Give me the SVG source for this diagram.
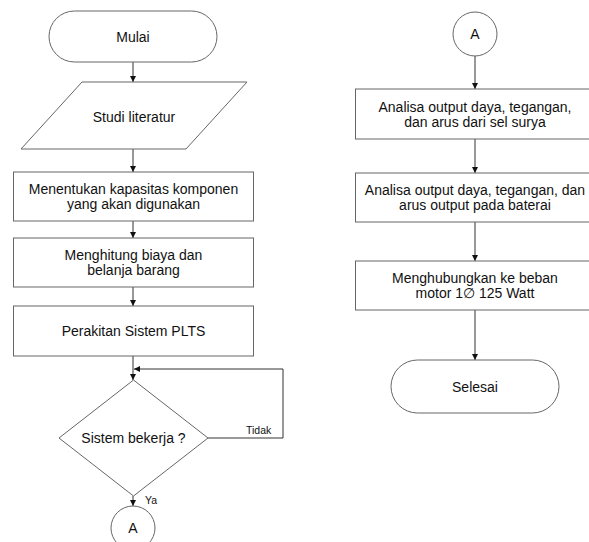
<svg xmlns="http://www.w3.org/2000/svg" width="589" height="542" viewBox="0 0 589 542">
<style>
.s{fill:#fff;stroke:#666;stroke-width:1}
.t{font-family:"Liberation Sans",Arial,sans-serif;font-size:14px;fill:#111;text-anchor:middle}
.l{font-family:"Liberation Sans",Arial,sans-serif;font-size:10.5px;fill:#111}
.c{fill:none;stroke:#333;stroke-width:1}
</style>
<defs>
<marker id="ah" viewBox="0 0 10 10" refX="10" refY="5" markerWidth="6" markerHeight="6" markerUnits="userSpaceOnUse" orient="auto">
<path d="M0,0 L10,5 L0,10 z" fill="#111"/>
</marker>
</defs>
<rect width="589" height="542" fill="#fff"/>
<g id="connectors">
<line class="c" x1="133" y1="62" x2="133" y2="82" marker-end="url(#ah)"/>
<line class="c" x1="133" y1="149" x2="133" y2="172" marker-end="url(#ah)"/>
<line class="c" x1="133" y1="221" x2="133" y2="238" marker-end="url(#ah)"/>
<line class="c" x1="133" y1="287" x2="133" y2="306" marker-end="url(#ah)"/>
<line class="c" x1="133" y1="356" x2="133" y2="380" marker-end="url(#ah)"/>
<polyline class="c" points="208,438 283,438 283,369 134,369" marker-end="url(#ah)"/>
<line class="c" x1="133" y1="496" x2="133" y2="506" marker-end="url(#ah)"/>
<line class="c" x1="475" y1="56" x2="475" y2="89" marker-end="url(#ah)"/>
<line class="c" x1="475" y1="139" x2="475" y2="173" marker-end="url(#ah)"/>
<line class="c" x1="475" y1="222" x2="475" y2="261" marker-end="url(#ah)"/>
<line class="c" x1="475" y1="310" x2="475" y2="360" marker-end="url(#ah)"/>
<text class="l" x="246" y="434">Tidak</text>
<text class="l" x="145" y="504">Ya</text>
</g>
<g id="mulai">
<rect class="s" x="49" y="11" width="168" height="51" rx="25.5"/>
<text class="t" x="133" y="42">Mulai</text>
</g>
<g id="studi">
<polygon class="s" points="82,82 247,82 186,149 21,149"/>
<text class="t" x="134" y="122">Studi literatur</text>
</g>
<g id="kapasitas">
<rect class="s" x="13.5" y="172" width="240" height="49"/>
<text class="t" x="133.5" y="194">Menentukan kapasitas komponen</text>
<text class="t" x="133.5" y="209">yang akan digunakan</text>
</g>
<g id="biaya">
<rect class="s" x="13.5" y="238" width="240" height="49"/>
<text class="t" x="133.5" y="260">Menghitung biaya dan</text>
<text class="t" x="133.5" y="275">belanja barang</text>
</g>
<g id="perakitan">
<rect class="s" x="13.5" y="306" width="240" height="50"/>
<text class="t" x="133.5" y="336">Perakitan Sistem PLTS</text>
</g>
<g id="decision">
<polygon class="s" points="133.5,380 208,438 133.5,496 59,438"/>
<text class="t" x="133.5" y="443">Sistem bekerja ?</text>
</g>
<g id="connA1">
<circle class="s" cx="133" cy="528" r="22"/>
<text class="t" x="133" y="533">A</text>
</g>
<g id="connA2">
<circle class="s" cx="475" cy="34" r="22"/>
<text class="t" x="475" y="39">A</text>
</g>
<g id="analisaSel">
<rect class="s" x="355.5" y="89" width="240" height="50"/>
<text class="t" x="475" y="111.5">Analisa output daya, tegangan,</text>
<text class="t" x="475" y="126.5">dan arus dari sel surya</text>
</g>
<g id="analisaBaterai">
<rect class="s" x="355.5" y="173" width="240" height="49"/>
<text class="t" x="475" y="195">Analisa output daya, tegangan, dan</text>
<text class="t" x="475" y="210">arus output pada baterai</text>
</g>
<g id="beban">
<rect class="s" x="355.5" y="261" width="240" height="49"/>
<text class="t" x="475" y="283">Menghubungkan ke beban</text>
<text class="t" x="475" y="298">motor 1∅ 125 Watt</text>
</g>
<g id="selesai">
<rect class="s" x="391" y="360" width="168" height="53" rx="26.5"/>
<text class="t" x="475" y="391.5">Selesai</text>
</g>
</svg>
